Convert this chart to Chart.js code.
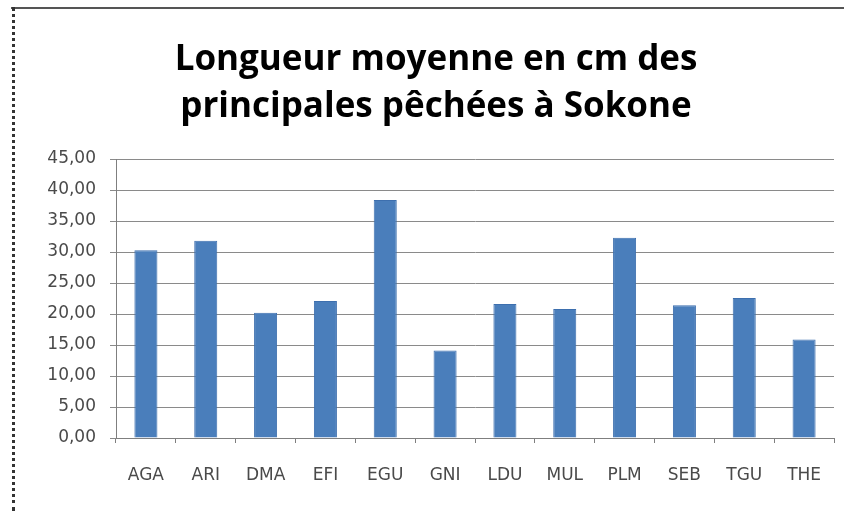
<!DOCTYPE html>
<html>
<head>
<meta charset="utf-8">
<script src="https://cdn.jsdelivr.net/npm/chart.js@4/dist/chart.umd.min.js"></script>
<style>
  html, body { margin: 0; padding: 0; background: #fff; }
  #wrap { position: relative; width: 844px; height: 511px; }
  #frameTop { position: absolute; left: 11px; top: 7px; width: 833px; height: 0; border-top: 2px solid #555; }
  #frameLeft { position: absolute; left: 12px; top: 7px; width: 0; height: 504px; border-left: 3px dotted #333; }
  canvas { position: absolute; left: 0; top: 0; }
</style>
</head>
<body>
<div id="wrap">
  <canvas id="c" width="844" height="511"></canvas>
  <div id="frameTop"></div>
  <div id="frameLeft"></div>
</div>
<script>
const categories = ["AGA", "ARI", "DMA", "EFI", "EGU", "GNI", "LDU", "MUL", "PLM", "SEB", "TGU", "THE"];
const values = [30.3, 31.8, 20.2, 22.1, 38.4, 14.1, 21.6, 20.8, 32.3, 21.4, 22.6, 15.9];
const titleLines = ["Longueur moyenne en cm des", "principales pêchées à Sokone"];
const yMin = 0, yMax = 45, yStep = 5;

const titlePlugin = {
  id: 'customTitle',
  afterDraw(chart) {
    const ctx = chart.ctx;
    ctx.save();
    ctx.font = 'bold 35px "Open Sans"';
    ctx.fillStyle = '#000';
    ctx.textAlign = 'center';
    ctx.textBaseline = 'alphabetic';
    titleLines.forEach((t, i) => ctx.fillText(t, 436, 70 + i * 47));
    ctx.restore();
  }
};

new Chart(document.getElementById('c'), {
  type: 'bar',
  data: {
    labels: categories,
    datasets: [{
      data: values,
      backgroundColor: '#4a7ebb',
      borderColor: '#3d6fae',
      borderWidth: 1,
      barPercentage: 0.77,
      categoryPercentage: 0.5
    }]
  },
  plugins: [titlePlugin],
  options: {
    responsive: false,
    animation: false,
    layout: { padding: { left: 0, right: 10, top: 159, bottom: 0 } },
    plugins: {
      legend: { display: false },
      tooltip: { enabled: false },
      title: { display: false }
    },
    scales: {
      x: {
        grid: { display: true, drawOnChartArea: false, drawTicks: true, tickLength: 5, color: '#7f7f7f', offset: true },
        border: { display: true, color: '#7f7f7f', width: 1 },
        ticks: { color: '#4a4a4a', font: { family: 'DejaVu Sans', size: 17 }, padding: 22, maxRotation: 0 },
        afterFit: (s) => { s.height = 73; }
      },
      y: {
        min: yMin, max: yMax,
        grid: { color: '#8a8a8a', lineWidth: 1, tickLength: 6, drawTicks: true },
        border: { display: true, color: '#7f7f7f', width: 1 },
        ticks: {
          stepSize: yStep,
          color: '#4a4a4a',
          font: { family: 'DejaVu Sans', size: 17 },
          padding: 14,
          callback: (v) => v.toFixed(2).replace('.', ',')
        },
        afterFit: (s) => { s.width = 116; }
      }
    }
  }
});
</script>
</body>
</html>
